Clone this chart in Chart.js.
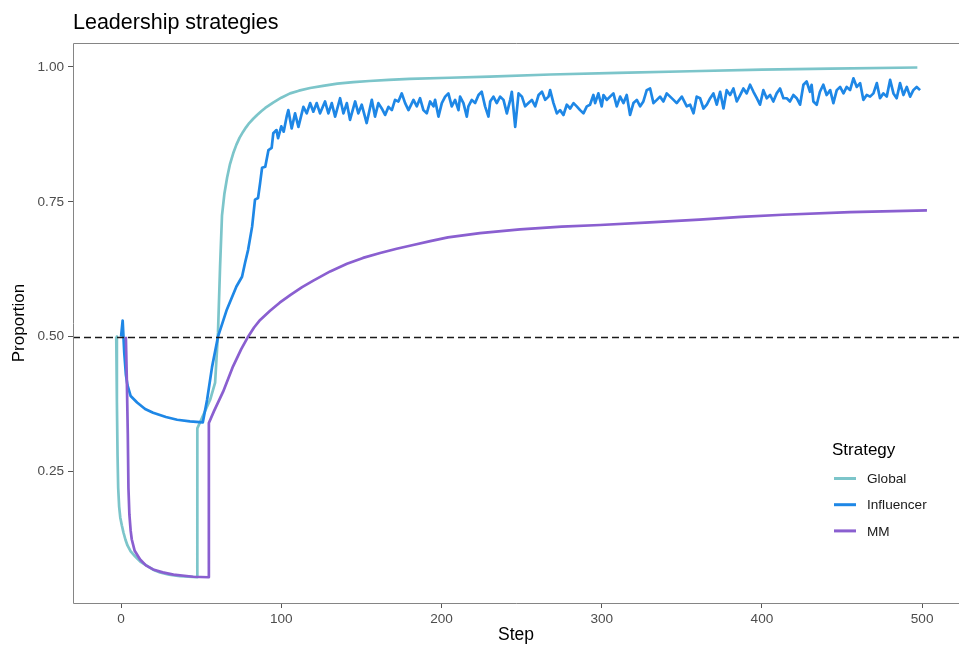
<!DOCTYPE html>
<html><head><meta charset="utf-8">
<script src="https://cdn.jsdelivr.net/npm/chart.js@4.4.1/dist/chart.umd.min.js"></script>
<style>html,body{margin:0;padding:0;background:#fff}canvas{display:block}</style>
</head><body>
<canvas id="c" width="959" height="646"></canvas>
<script>
const chartTitle = "Leadership strategies";
const xTitle = "Step";
const yTitle = "Proportion";
const legendTitle = "Strategy";
const seriesNames = ["Global", "Influencer", "MM"];
const xTicks = [0, 100, 200, 300, 400, 500];
const yTicks = [0.25, 0.50, 0.75, 1.00];
const refLine = 0.5;

const globalSteps  = [-3, -2.6, -2.2, -1.8, -1.2, -0.5, 0.5, 1.5, 2.7, 4, 6, 8.7, 12, 16.2, 20, 24.3, 30, 36.8, 47.4, 47.6, 55.6, 58.7, 60.5, 61.8, 63, 64.5, 66.2, 68, 70, 72, 74, 76.2, 78, 80, 82.5, 84.9, 87.5, 90, 94.9, 100, 105.5, 111, 118, 126, 135, 145, 155, 167, 180, 205, 230, 268, 310, 355, 400, 443, 497];
const globalValues = [0.50, 0.38, 0.28, 0.22, 0.185, 0.165, 0.15, 0.137, 0.124, 0.113, 0.102, 0.093, 0.083, 0.075, 0.068, 0.063, 0.059, 0.056, 0.054, 0.33, 0.383, 0.415, 0.507, 0.63, 0.725, 0.765, 0.795, 0.82, 0.84, 0.856, 0.869, 0.88, 0.888, 0.896, 0.904, 0.911, 0.918, 0.924, 0.934, 0.943, 0.951, 0.956, 0.961, 0.965, 0.969, 0.972, 0.974, 0.976, 0.978, 0.980, 0.982, 0.986, 0.989, 0.992, 0.995, 0.997, 0.999];

const influencerSteps = [0, 1, 2, 3, 4, 6, 10, 15, 20, 28, 35, 43, 51, 53.7, 56.8, 60.5, 66, 72, 75.5, 77.4, 79.3, 81.8, 83.6, 85.5, 86.8, 88, 90, 92, 94, 95, 97, 98, 100, 101.5, 103.5,
  104.4, 106.5, 108.6, 110.7, 113.8, 115.9, 118, 120, 122.1, 124.2, 127.3, 129.4, 131.5, 133.6, 136.7, 138.8, 140.9, 142.9, 146.1, 148.1, 150.2, 153.3, 156.5, 158.5, 160.6, 162.7, 164.8, 166.9, 169, 171, 173.1, 175.2, 177.3, 179.4,
  182.5, 184.6, 186.6, 188.7, 190.8, 192.9, 195, 196, 198.1, 200.2, 202.3, 204.3, 206.4, 208.5, 210.6, 211.6, 213.7, 215.8, 216.8, 218.9, 221, 223.1, 225.1, 227.2, 229.3, 230.4, 232.4, 234.5, 236.6, 238.7, 240.8, 242.9, 243.9, 246, 248.1, 250.2, 252.2, 254.3, 256.4, 258.5, 260.6, 262.7, 264.7, 266.8,
  267.8, 269.9, 272, 274, 276.1, 278.2, 280.3, 282.4, 284.4, 286.5, 288.6, 290.7, 292.7, 294.8, 295.9, 297.9, 300, 301.1, 303.2, 305.2, 307.3, 309.4, 311.5, 313.6, 315.6, 317.7, 319.8, 321.9, 324, 326, 328.1, 330.2, 332.3, 334.4, 336.4, 338.5, 340.6, 342.7, 344.8, 346.8, 350, 353.1,
  355.2, 357.3, 359.3, 361.4, 363.5, 365.6, 367.7, 369.7, 371.8, 373.9, 376, 378, 380.1, 382.2, 384.3, 386.4, 388.4, 390.5, 392.6, 394.7, 396.8, 398.8, 400.9, 403, 405.1, 407.1, 409.2, 411.3, 413.4, 415.5, 417.5, 419.6, 421.7, 423.8, 425.9, 427.9, 430, 431, 432.1, 434.2, 436.2, 438.3, 440.4,
  442.6, 444.6, 446.7, 448.8, 450.9, 452.9, 455, 457.1, 459.2, 461.3, 463.3, 465.4, 467.5, 469.6, 471.7, 473.7, 475.8, 477.9, 480, 482.1, 484.1, 486.2, 488.3, 490.4, 492.5, 494.5, 496.6, 498.7];
const influencerValues = [0.50, 0.53, 0.47, 0.43, 0.41, 0.39, 0.378, 0.366, 0.359, 0.351, 0.346, 0.343, 0.341, 0.383, 0.444, 0.50, 0.55, 0.593, 0.611, 0.637, 0.661, 0.704, 0.754, 0.757, 0.785, 0.813, 0.815, 0.846, 0.85, 0.877, 0.883, 0.868, 0.89, 0.88, 0.91,
  0.920, 0.886, 0.914, 0.889, 0.926, 0.914, 0.933, 0.917, 0.933, 0.914, 0.936, 0.914, 0.933, 0.908, 0.942, 0.914, 0.933, 0.902, 0.936, 0.914, 0.930, 0.896, 0.939, 0.908, 0.933, 0.923, 0.911, 0.926, 0.920, 0.939, 0.936, 0.951, 0.933, 0.920,
  0.939, 0.927, 0.942, 0.920, 0.914, 0.936, 0.927, 0.939, 0.908, 0.933, 0.945, 0.951, 0.927, 0.939, 0.920, 0.945, 0.933, 0.908, 0.927, 0.939, 0.933, 0.948, 0.954, 0.927, 0.908, 0.936, 0.945, 0.933, 0.945, 0.939, 0.914, 0.939, 0.954, 0.889, 0.951, 0.945, 0.927, 0.933, 0.939, 0.927, 0.948, 0.954, 0.939, 0.945,
  0.957, 0.933, 0.914, 0.920, 0.911, 0.930, 0.923, 0.933, 0.927, 0.920, 0.914, 0.927, 0.930, 0.948, 0.933, 0.951, 0.927, 0.948, 0.939, 0.945, 0.951, 0.927, 0.945, 0.933, 0.948, 0.911, 0.933, 0.939, 0.927, 0.936, 0.957, 0.960, 0.933, 0.939, 0.945, 0.936, 0.951, 0.945, 0.939, 0.933, 0.945, 0.927,
  0.930, 0.914, 0.945, 0.942, 0.923, 0.930, 0.942, 0.951, 0.930, 0.954, 0.923, 0.957, 0.948, 0.960, 0.936, 0.948, 0.960, 0.951, 0.967, 0.954, 0.942, 0.930, 0.957, 0.942, 0.948, 0.936, 0.951, 0.960, 0.942, 0.942, 0.936, 0.948, 0.942, 0.930, 0.967, 0.973, 0.954, 0.967, 0.936, 0.930, 0.954, 0.967, 0.948,
  0.957, 0.933, 0.957, 0.963, 0.951, 0.963, 0.957, 0.979, 0.963, 0.970, 0.939, 0.948, 0.945, 0.951, 0.970, 0.942, 0.951, 0.945, 0.976, 0.951, 0.942, 0.970, 0.948, 0.963, 0.945, 0.957, 0.963, 0.957];

const mmSteps  = [3, 3.6, 4.2, 4.6, 5.2, 6.0, 6.7, 8.5, 11.9, 15.5, 20, 26, 32.7, 45, 54.5, 54.8, 58, 63.7, 69.9, 75, 79.3, 83, 86.8, 93, 99, 106, 113, 120, 130.5, 141, 151, 161.7, 172, 182.3, 193, 204, 224, 249, 275, 299, 330, 361, 387, 413, 455, 503];
const mmValues = [0.50, 0.42, 0.32, 0.22, 0.17, 0.14, 0.124, 0.103, 0.087, 0.076, 0.0685, 0.063, 0.059, 0.055, 0.054, 0.34, 0.362, 0.398, 0.445, 0.477, 0.50, 0.517, 0.531, 0.548, 0.563, 0.578, 0.592, 0.604, 0.621, 0.635, 0.646, 0.655, 0.663, 0.670, 0.677, 0.684, 0.692, 0.699, 0.704, 0.707, 0.712, 0.717, 0.722, 0.726, 0.731, 0.734];

const seriesColors = ["#7cc5ca", "#1e87e6", "#8a5fd0"];
const toPts = (xs, ys) => xs.map((s, i) => ({x: s, y: ys[i]}));

const FONT = '"Liberation Sans", Arial, sans-serif';

const decor = {
  id: 'decor',
  afterDatasetsDraw(chart) {
    const {ctx, chartArea: a, scales: {x, y}} = chart;
    ctx.save();
    const py = Math.round(y.getPixelForValue(refLine)) + 0.5;
    ctx.setLineDash([7, 4]);
    ctx.strokeStyle = '#1a1a1a';
    ctx.lineWidth = 1.4;
    ctx.beginPath(); ctx.moveTo(a.left, py); ctx.lineTo(a.right, py); ctx.stroke();
    ctx.setLineDash([]);
    ctx.strokeStyle = '#858585';
    ctx.lineWidth = 1;
    ctx.beginPath();
    ctx.moveTo(a.right, a.top + 0.5); ctx.lineTo(a.left + 0.5, a.top + 0.5);
    ctx.lineTo(a.left + 0.5, a.bottom + 0.5); ctx.lineTo(a.right, a.bottom + 0.5);
    ctx.stroke();
    const lx = 832, ty = 455;
    ctx.fillStyle = '#000';
    ctx.font = '17px ' + FONT;
    ctx.textBaseline = 'alphabetic';
    ctx.textAlign = 'left';
    ctx.fillText(legendTitle, lx, ty);
    ctx.font = '13.6px ' + FONT;
    ctx.textBaseline = 'middle';
    chart.data.datasets.forEach((ds, i) => {
      const iy = 478.5 + i * 26.2;
      ctx.strokeStyle = ds.borderColor;
      ctx.lineWidth = 3;
      ctx.beginPath(); ctx.moveTo(834, iy); ctx.lineTo(856, iy); ctx.stroke();
      ctx.fillStyle = '#1a1a1a';
      ctx.fillText(ds.label, 867, iy + 1);
    });
    ctx.fillStyle = '#000';
    ctx.font = '21.5px ' + FONT;
    ctx.textBaseline = 'alphabetic';
    ctx.fillText(chartTitle, 73, 29);
    ctx.restore();
  }
};

new Chart(document.getElementById('c'), {
  type: 'line',
  data: {
    datasets: [
      {label: seriesNames[0], data: toPts(globalSteps, globalValues), borderColor: seriesColors[0], order: 3},
      {label: seriesNames[1], data: toPts(influencerSteps, influencerValues), borderColor: seriesColors[1], order: 2},
      {label: seriesNames[2], data: toPts(mmSteps, mmValues), borderColor: seriesColors[2], order: 1}
    ].map(d => Object.assign(d, {borderWidth: 2.7, pointRadius: 0, tension: 0, fill: false, borderJoinStyle: 'round', borderCapStyle: 'butt'}))
  },
  options: {
    responsive: false,
    animation: false,
    devicePixelRatio: 1,
    layout: {padding: {top: 43, left: 0, right: 0, bottom: 0}},
    plugins: {legend: {display: false}, tooltip: {enabled: false}, title: {display: false}},
    scales: {
      x: {
        type: 'linear', min: -30, max: 523,
        afterFit: s => { s.height = 43; },
        afterBuildTicks: s => { s.ticks = xTicks.map(v => ({value: v})); },
        grid: {display: true, drawOnChartArea: false, drawTicks: true, tickLength: 5, tickColor: '#555', tickWidth: 1},
        border: {display: false},
        ticks: {padding: 3, color: '#4d4d4d', font: {size: 13.6, family: FONT}, maxRotation: 0, callback: v => String(v)},
        title: {display: true, text: xTitle, color: '#000', font: {size: 17.5, family: FONT}, padding: {top: 0, bottom: 0}}
      },
      y: {
        type: 'linear', min: 0.0063, max: 1.0444,
        afterFit: s => { s.width = 73; },
        afterBuildTicks: s => { s.ticks = yTicks.map(v => ({value: v})); },
        grid: {display: true, drawOnChartArea: false, drawTicks: true, tickLength: 5, tickColor: '#555', tickWidth: 1},
        border: {display: false},
        ticks: {padding: 4, color: '#4d4d4d', font: {size: 13.6, family: FONT}, callback: v => Number(v).toFixed(2)},
        title: {display: true, text: yTitle, color: '#000', font: {size: 17, family: FONT}, padding: {top: 9, bottom: 0}}
      }
    }
  },
  plugins: [decor]
});
</script>
</body></html>
